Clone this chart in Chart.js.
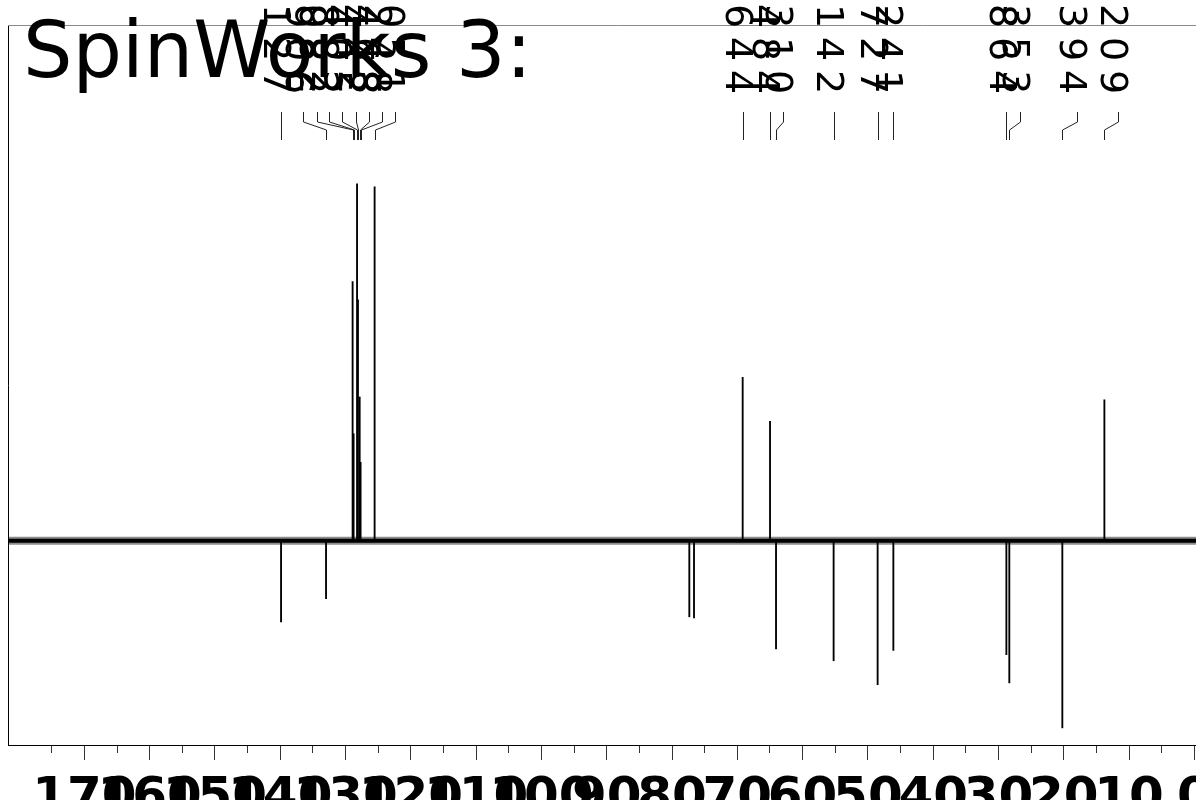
<!DOCTYPE html>
<html>
<head>
<meta charset="utf-8">
<script src="https://cdn.jsdelivr.net/npm/chart.js@4.4.0/dist/chart.umd.min.js"></script>
<style>
  html, body { margin: 0; padding: 0; overflow: hidden; background: #fff; width: 1196px; height: 800px; }
  #wrap { position: absolute; left: 0; top: 0; width: 1227px; height: 860px; }
</style>
</head>
<body>
<div id="wrap"><canvas id="c" width="1227" height="860"></canvas></div>
<script>
// ---- data ----
const titleText = 'SpinWorks 3:';
const axisMin = -5;      // ppm at right edge (beyond the window)
const axisMax = 181.7;   // ppm at left edge
const majorTicks = [0, 10, 20, 30, 40, 50, 60, 70, 80, 90, 100, 110, 120, 130, 140, 150, 160, 170];
const minorTicks = [0, 5, 10, 15, 20, 25, 30, 35, 40, 45, 50, 55, 60, 65, 70, 75, 80, 85, 90, 95,
                    100, 105, 110, 115, 120, 125, 130, 135, 140, 145, 150, 155, 160, 165, 170, 175];

// peak positions (ppm) and phased intensities (DEPT: CH/CH3 up, CH2 down)
const peakPpm       = [139.88, 132.99, 128.92, 128.77, 128.24, 128.10, 127.84, 127.70, 125.55,
                       77.35, 76.63, 69.18, 64.99, 64.07, 55.25, 48.51, 46.10, 28.79, 28.34, 20.22, 13.78];
const peakIntensity = [-22.7, -16.2, 72.6, 30.0, 100.0, 67.5, 40.3, 22.0, 99.2,
                       -21.3, -21.6, 45.8, 33.5, -30.3, -33.6, -40.3, -30.7, -31.9, -39.8, -52.4, 39.5];
// peak-pick labels (only their tail fits on the page) and where each label column sits (ppm)
const peakLabel     = ['139.8127', '132.9906', '128.9082', '128.7882', '128.2405', '128.1442', '127.8468', '127.7248', '125.5051',
                       null, null, '69.1644', '64.9484', '64.0310', '55.2142', '48.5727', '46.1241', '28.7864', '28.3353', '20.2394', '13.8209'];
const labelPpm      = [139.88, 136.47, 134.32, 132.49, 130.50, 128.36, 126.37, 124.38, 122.38,
                       null, null, 69.18, 64.99, 62.95, 55.25, 48.51, 46.10, 28.79, 26.65, 17.92, 11.64];
const yMin = -57.2, yMax = 144.5;

// ---- chart ----
const peakPoints = peakPpm.map((p, i) => ({ x: p, y: peakIntensity[i] }));
const baseline = [{ x: axisMax, y: 0 }, { x: axisMin, y: 0 }];

const overlay = {
  id: 'overlay',
  afterDraw(chart) {
    const ctx = chart.ctx, xs = chart.scales.x, area = chart.chartArea;
    ctx.save();
    // top frame line
    ctx.strokeStyle = '#8a8a8a';
    ctx.lineWidth = 1;
    ctx.beginPath();
    ctx.moveTo(area.left, Math.round(area.top) + 0.5);
    ctx.lineTo(area.right, Math.round(area.top) + 0.5);
    ctx.stroke();
    // leader lines
    ctx.strokeStyle = '#222';
    for (let i = 0; i < peakPpm.length; i++) {
      if (!peakLabel[i]) continue;
      const px = Math.round(xs.getPixelForValue(peakPpm[i])) + 0.5;
      const lx = Math.round(xs.getPixelForValue(labelPpm[i])) + 0.5;
      ctx.beginPath();
      ctx.moveTo(lx, 112); ctx.lineTo(lx, 122); ctx.lineTo(px, 130); ctx.lineTo(px, 140);
      ctx.stroke();
    }
    // rotated label characters
    ctx.fillStyle = '#000';
    ctx.font = '38px "DejaVu Sans"';
    ctx.textAlign = 'center';
    ctx.textBaseline = 'middle';
    for (let i = 0; i < peakPpm.length; i++) {
      const s = peakLabel[i];
      if (!s) continue;
      const lx = xs.getPixelForValue(labelPpm[i]) - 7;
      for (let k = 0; k < s.length; k++) {
        const y = 82 - 33 * k;
        if (y < -30) break;
        ctx.save();
        ctx.translate(lx, y);
        ctx.rotate(Math.PI / 2);
        ctx.fillText(s[s.length - 1 - k], 0, 0);
        ctx.restore();
      }
    }
    // title
    ctx.font = '78px "DejaVu Sans"';
    ctx.textAlign = 'left';
    ctx.textBaseline = 'alphabetic';
    ctx.fillText(titleText, 23, 77);
    ctx.restore();
  }
};

new Chart(document.getElementById('c'), {
  type: 'bar',
  data: {
    datasets: [
      { type: 'bar', label: 'peaks', data: peakPoints, backgroundColor: '#000', borderWidth: 0,
        barThickness: 1.2, order: 1 },
      { type: 'line', label: 'baseline', data: baseline, borderColor: '#000', borderWidth: 4,
        pointRadius: 0, order: 2 },
      { type: 'line', label: 'noise', data: baseline, borderColor: 'rgba(0,0,0,0.45)', borderWidth: 8,
        pointRadius: 0, order: 3 }
    ]
  },
  options: {
    responsive: false,
    animation: false,
    layout: { autoPadding: false, padding: { left: 8, top: 25, right: 0, bottom: 0 } },
    plugins: { legend: { display: false }, tooltip: { enabled: false }, title: { display: false } },
    scales: {
      x: {
        type: 'linear', reverse: true, offset: false, min: axisMin, max: axisMax, position: 'bottom', weight: 1,
        afterBuildTicks: s => { s.ticks = majorTicks.map(v => ({ value: v })); },
        afterFit: s => { s.height = 115; },
        grid: { offset: false, drawOnChartArea: false, drawTicks: true, tickLength: 15, tickColor: '#333', tickWidth: 1 },
        border: { display: true, color: '#000', width: 1 },
        ticks: { autoSkip: false, maxRotation: 0, minRotation: 0, padding: 9, color: '#000',
                 font: { family: 'DejaVu Sans', size: 50, weight: 'bold' }, callback: v => String(v) }
      },
      x2: {
        type: 'linear', reverse: true, offset: false, min: axisMin, max: axisMax, position: 'bottom', weight: 0,
        afterBuildTicks: s => { s.ticks = minorTicks.map(v => ({ value: v })); },
        afterFit: s => { s.height = 0; },
        grid: { offset: false, drawOnChartArea: false, drawTicks: true, tickLength: 8, tickColor: '#333', tickWidth: 1 },
        border: { display: false },
        ticks: { display: false }
      },
      y: {
        type: 'linear', min: yMin, max: yMax, position: 'left',
        afterFit: s => { s.width = 0; },
        grid: { display: false, drawTicks: false },
        ticks: { display: false },
        border: { display: true, color: '#000', width: 1 }
      }
    }
  },
  plugins: [overlay]
});
</script>
</body>
</html>
